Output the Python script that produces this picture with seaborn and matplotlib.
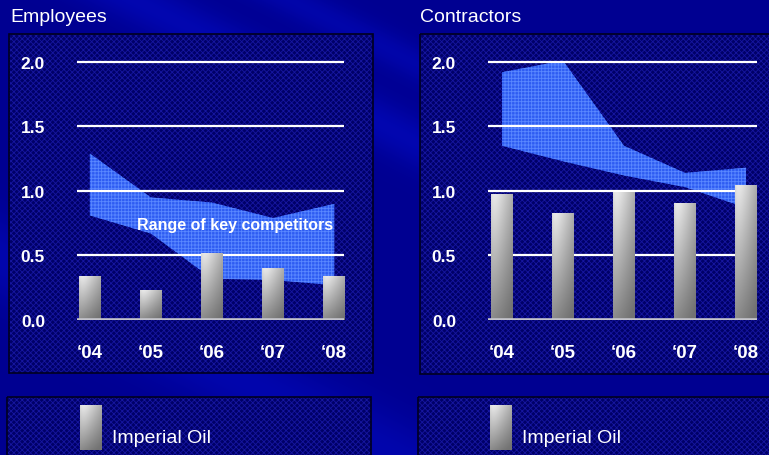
import numpy as np
import matplotlib
matplotlib.use("Agg")
import matplotlib.pyplot as plt
from matplotlib.patches import Rectangle
import seaborn as sns

# ---- data -------------------------------------------------------------
years = ["\u201804", "\u201805", "\u201806", "\u201807", "\u201808"]

emp_imperial = [0.34, 0.23, 0.52, 0.40, 0.34]
emp_comp_low = [0.81, 0.67, 0.32, 0.31, 0.27]
emp_comp_high = [1.29, 0.95, 0.91, 0.79, 0.90]

con_imperial = [0.98, 0.83, 0.99, 0.91, 1.05]
con_comp_low = [1.35, 1.23, 1.12, 1.03, 0.87]
con_comp_high = [1.92, 2.01, 1.35, 1.14, 1.18]

y_ticks = [0.0, 0.5, 1.0, 1.5, 2.0]
y_tick_labels = ["0.0", "0.5", "1.0", "1.5", "2.0"]

# ---- style ------------------------------------------------------------
plt.rcParams["font.family"] = ["Liberation Sans", "DejaVu Sans"]
plt.rcParams["hatch.linewidth"] = 0.6

W, H = 769, 456
BG = np.array([0.0, 0.0, 0.57])
PANEL = "#000068"
PANEL_HATCH = "#1616a0"
BAND = "#2e5cf2"
BAND_HATCH = "#5a88ff"

fig = plt.figure(figsize=(W / 100, H / 100), dpi=100)


def px_rect(x0, y0, x1, y1):
    return [x0 / W, 1 - y1 / H, (x1 - x0) / W, (y1 - y0) / H]


# ---- slide background with soft diagonal streaks ----------------------
bg = fig.add_axes([0, 0, 1, 1], zorder=0)
yy, xx = np.mgrid[0:H, 0:W]
u = xx * 0.45 - yy * 0.89
streak = (0.10 * np.exp(-((u - 60) / 25) ** 2)
          + 0.08 * np.exp(-((u - 130) / 18) ** 2)
          + 0.07 * np.exp(-((u - 460) / 30) ** 2)
          + 0.06 * np.exp(-((u - 560) / 20) ** 2)
          + 0.09 * np.exp(-((u + 230) / 40) ** 2))
img = np.zeros((H, W, 3))
img[..., 2] = np.clip(BG[2] + streak * 1.2, 0, 1)
img[..., 1] = np.clip(streak * 0.25, 0, 1)
img[..., 0] = np.clip(streak * 0.08, 0, 1)
bg.imshow(img, extent=[0, W, H, 0], aspect="auto", interpolation="bilinear")
bg.set_xlim(0, W)
bg.set_ylim(H, 0)
bg.axis("off")


def textured_box(x0, y0, x1, y1):
    bg.add_patch(Rectangle((x0, y0), x1 - x0, y1 - y0, facecolor=PANEL,
                           edgecolor="none", zorder=1))
    bg.add_patch(Rectangle((x0, y0), x1 - x0, y1 - y0, facecolor="none",
                           edgecolor=PANEL_HATCH, hatch="xxxxxx", lw=0, zorder=2))
    bg.add_patch(Rectangle((x0, y0), x1 - x0, y1 - y0, facecolor="none",
                           edgecolor="#000020", lw=1.2, zorder=3))


textured_box(9, 35, 373, 374)
textured_box(420, 35, 790, 375)
textured_box(7, 398, 371, 470)
textured_box(418, 398, 790, 470)


def bar_gradient(nx=40, ny=80):
    ty = np.linspace(0, 1, ny)[:, None]
    tx = np.linspace(0, 1, nx)[None, :]
    v = 1.0 - 0.45 * ty - 0.32 * tx * (1 - 0.6 * ty)
    v -= 0.14 * np.exp(-tx / 0.12) * (1 - ty)
    v = np.clip(v, 0.45, 1.0)
    return np.dstack([v, v, v])


GRAD = bar_gradient()


def shade_bars(ax, bars):
    for b in bars:
        x0, y0 = b.get_x(), b.get_y()
        w, h = b.get_width(), b.get_height()
        im = ax.imshow(GRAD, extent=[x0, x0 + w, y0, y0 + h], aspect="auto",
                       origin="upper", zorder=3, interpolation="bilinear")
        im.set_clip_path(b)
        b.set_facecolor("none")
        b.set_edgecolor("none")


def panel(ax, values, low, high, xlim):
    ax.set_facecolor("none")
    x = np.arange(len(years))
    ax.fill_between(x, low, high, facecolor=BAND, edgecolor="none", lw=0, zorder=1)
    ax.fill_between(x, low, high, facecolor="none", edgecolor=BAND_HATCH,
                    hatch="+++++", lw=0, zorder=1.1)
    for t in y_ticks[1:]:
        ax.axhline(t, color="white", lw=1.6, zorder=2)
    sns.barplot(x=years, y=values, order=years, ax=ax, color="#bbbbbb",
                width=0.36, saturation=1, zorder=3)
    shade_bars(ax, list(ax.patches))
    ax.axhline(0, color="#c4c4cc", lw=2.6, zorder=4)
    ax.set_xlim(*xlim)
    ax.set_ylim(0, 2.1)
    ax.set_yticks(y_ticks)
    ax.set_yticklabels(y_tick_labels, fontsize=12.5, fontweight="bold", color="white")
    ax.set_xticks(x)
    ax.set_xticklabels(years, fontsize=13.5, fontweight="bold", color="white")
    ax.tick_params(axis="y", length=0, pad=23)
    ax.tick_params(axis="x", length=0, pad=17)
    ax.set_xlabel("")
    ax.set_ylabel("")
    for s in ax.spines.values():
        s.set_visible(False)


ax1 = fig.add_axes(px_rect(77, 50, 344, 321), zorder=5)
panel(ax1, emp_imperial, emp_comp_low, emp_comp_high, (-0.21, 4.16))
ax1.text(2.38, 0.74, "Range of key competitors", color="white", fontsize=11.5,
         fontweight="bold", ha="center", va="center", zorder=6)

ax2 = fig.add_axes(px_rect(488, 50, 757, 321), zorder=5)
panel(ax2, con_imperial, con_comp_low, con_comp_high, (-0.23, 4.18))

fig.text(10 / W, 1 - 17 / H, "Employees", color="white", fontsize=14,
         ha="left", va="center")
fig.text(420 / W, 1 - 17 / H, "Contractors", color="white", fontsize=14,
         ha="left", va="center")

# legend entries
for sx, tx in [(80, 112), (490, 522)]:
    bg.imshow(GRAD, extent=[sx, sx + 22, 451, 406], aspect="auto",
              origin="upper", zorder=4, interpolation="bilinear")
    bg.text(tx, 439, "Imperial Oil", color="white", fontsize=14,
            ha="left", va="center", zorder=5)

bg.set_xlim(0, W)
bg.set_ylim(H, 0)

fig.savefig("out.png", dpi=100)
